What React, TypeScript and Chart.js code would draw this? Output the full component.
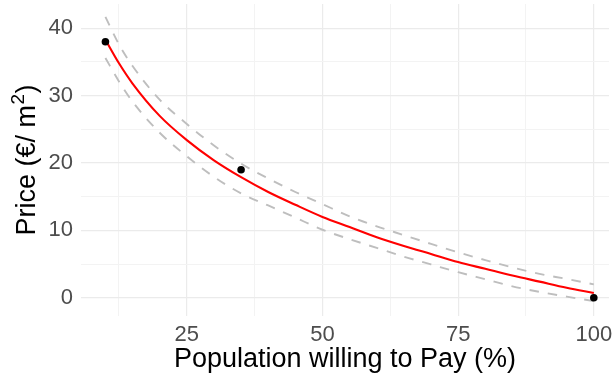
import { useEffect, useRef } from "react";
import { Chart, registerables } from "chart.js";

Chart.register(...registerables);

// Fitted curve and confidence band
const xFit = [10, 12.5, 15, 20, 25, 30, 35, 40, 45, 50, 55, 60, 65, 70, 75, 80, 85, 90, 95, 100];
const fitPrice = [38.3, 34.8, 31.8, 27.0, 23.4, 20.4, 17.9, 15.7, 13.8, 12.0, 10.5, 9.0, 7.7, 6.5, 5.3, 4.3, 3.3, 2.4, 1.5, 0.7];
const upperPrice = [41.7, 37.6, 34.4, 29.4, 25.8, 22.6, 19.9, 17.7, 15.7, 13.9, 12.1, 10.6, 9.3, 8.0, 6.75, 5.6, 4.5, 3.55, 2.8, 2.0];
const lowerPrice = [35.6, 32.1, 29.1, 24.5, 21.0, 17.95, 15.5, 13.7, 11.9, 10.1, 8.7, 7.4, 6.1, 4.95, 3.8, 2.75, 1.7, 0.88, 0.18, -0.5];

// Observed points
const obsX = [10, 35, 100];
const obsPrice = [38, 19, 0];

// Ticks
const xMajorTicks = [25, 50, 75, 100];
const xMinorTicks = [12.5, 37.5, 62.5, 87.5];
const yMajorTicks = [0, 10, 20, 30, 40];
const yMinorTicks = [5, 15, 25, 35];

// Titles
const xTitle = "Population willing to Pay (%)";
const yTitleMain = "Price (€/ m";
const yTitleSup = "2";
const yTitleEnd = ")";

const FONT = "'Liberation Sans', Arial, Helvetica, sans-serif";
const MAJOR_GRID = "#EBEBEB";
const MINOR_GRID = "#F3F3F3";

const yTitlePlugin = {
  id: "yTitleSup",
  afterDraw(chart: any) {
    const { ctx, chartArea } = chart;
    const cy = (chartArea.top + chartArea.bottom) / 2;
    const cx = 25;
    ctx.save();
    ctx.fillStyle = "#000000";
    ctx.textBaseline = "alphabetic";
    ctx.textAlign = "left";
    const mainFont = `27px ${FONT}`;
    const supFont = `19px ${FONT}`;
    ctx.font = mainFont;
    const w1 = ctx.measureText(yTitleMain).width;
    const w3 = ctx.measureText(yTitleEnd).width;
    ctx.font = supFont;
    const w2 = ctx.measureText(yTitleSup).width + 1;
    const total = w1 + w2 + w3;
    ctx.translate(cx, cy);
    ctx.rotate(-Math.PI / 2);
    const baseY = 10;
    let x = -total / 2;
    ctx.font = mainFont;
    ctx.fillText(yTitleMain, x, baseY);
    x += w1;
    ctx.font = supFont;
    ctx.fillText(yTitleSup, x + 0.5, baseY - 11);
    x += w2;
    ctx.font = mainFont;
    ctx.fillText(yTitleEnd, x, baseY);
    ctx.restore();
  },
};

export default function App() {
  const ref = useRef<HTMLCanvasElement>(null);

  useEffect(() => {
    const toPts = (xs: number[], ys: number[]) => xs.map((x, i) => ({ x, y: ys[i] }));
    const chart = new Chart(ref.current as HTMLCanvasElement, {
      type: "line",
      data: {
        datasets: [
          {
            data: toPts(obsX, obsPrice),
            showLine: false,
            pointRadius: 3.8,
            pointBackgroundColor: "#000000",
            pointBorderWidth: 0,
            order: 0,
          },
          {
            data: toPts(xFit, fitPrice),
            borderColor: "#FF0000",
            borderWidth: 2.1,
            pointRadius: 0,
            cubicInterpolationMode: "monotone",
            order: 1,
          },
          {
            data: toPts(xFit, upperPrice),
            borderColor: "#BEBEBE",
            borderWidth: 1.9,
            borderDash: [9.5, 9],
            pointRadius: 0,
            cubicInterpolationMode: "monotone",
            order: 2,
          },
          {
            data: toPts(xFit, lowerPrice),
            borderColor: "#BEBEBE",
            borderWidth: 1.9,
            borderDash: [9.5, 9],
            pointRadius: 0,
            cubicInterpolationMode: "monotone",
            order: 2,
          },
        ],
      },
      options: {
        animation: false,
        responsive: false,
        layout: { padding: { top: 2, right: 7, left: 0, bottom: 0 } },
        plugins: { legend: { display: false }, tooltip: { enabled: false } },
        scales: {
          x: {
            type: "linear",
            min: 5.5,
            max: 102.8,
            afterBuildTicks: (s: any) => {
              s.ticks = [...xMajorTicks, ...xMinorTicks].sort((a, b) => a - b).map((v) => ({ value: v }));
            },
            afterFit: (s: any) => {
              s.height = 67;
              s.paddingLeft = 0;
              s.paddingRight = 0;
            },
            ticks: {
              autoSkip: false,
              maxRotation: 0,
              padding: 6,
              color: "#4D4D4D",
              font: { family: FONT, size: 22 },
              callback: (v: any) => (xMajorTicks.includes(Number(v)) ? String(v) : ""),
            },
            grid: {
              drawTicks: false,
              color: (ctx: any) => (ctx.tick && xMajorTicks.includes(ctx.tick.value) ? MAJOR_GRID : MINOR_GRID),
              lineWidth: (ctx: any) => (ctx.tick && xMajorTicks.includes(ctx.tick.value) ? 1.2 : 1),
            },
            border: { display: false },
            title: {
              display: true,
              text: xTitle,
              color: "#000000",
              font: { family: FONT, size: 27 },
              padding: { top: 0, bottom: 7 },
            },
          },
          y: {
            type: "linear",
            min: -2.7,
            max: 43.6,
            afterBuildTicks: (s: any) => {
              s.ticks = [...yMajorTicks, ...yMinorTicks].sort((a, b) => a - b).map((v) => ({ value: v }));
            },
            afterFit: (s: any) => {
              s.width = 81;
              s.paddingTop = 0;
              s.paddingBottom = 0;
            },
            ticks: {
              autoSkip: false,
              padding: 8,
              color: "#4D4D4D",
              font: { family: FONT, size: 22 },
              callback: (v: any) => (yMajorTicks.includes(Number(v)) ? String(v) : ""),
            },
            grid: {
              drawTicks: false,
              color: (ctx: any) => (ctx.tick && yMajorTicks.includes(ctx.tick.value) ? MAJOR_GRID : MINOR_GRID),
              lineWidth: (ctx: any) => (ctx.tick && yMajorTicks.includes(ctx.tick.value) ? 1.2 : 1),
            },
            border: { display: false },
            title: { display: false },
          },
        },
      },
      plugins: [yTitlePlugin],
    } as any);
    return () => chart.destroy();
  }, []);

  return (
    <div style={{ position: "fixed", left: 0, top: 0, width: 616, height: 383, background: "#FFFFFF" }}>
      <canvas ref={ref} width={616} height={383} style={{ display: "block" }} />
    </div>
  );
}
